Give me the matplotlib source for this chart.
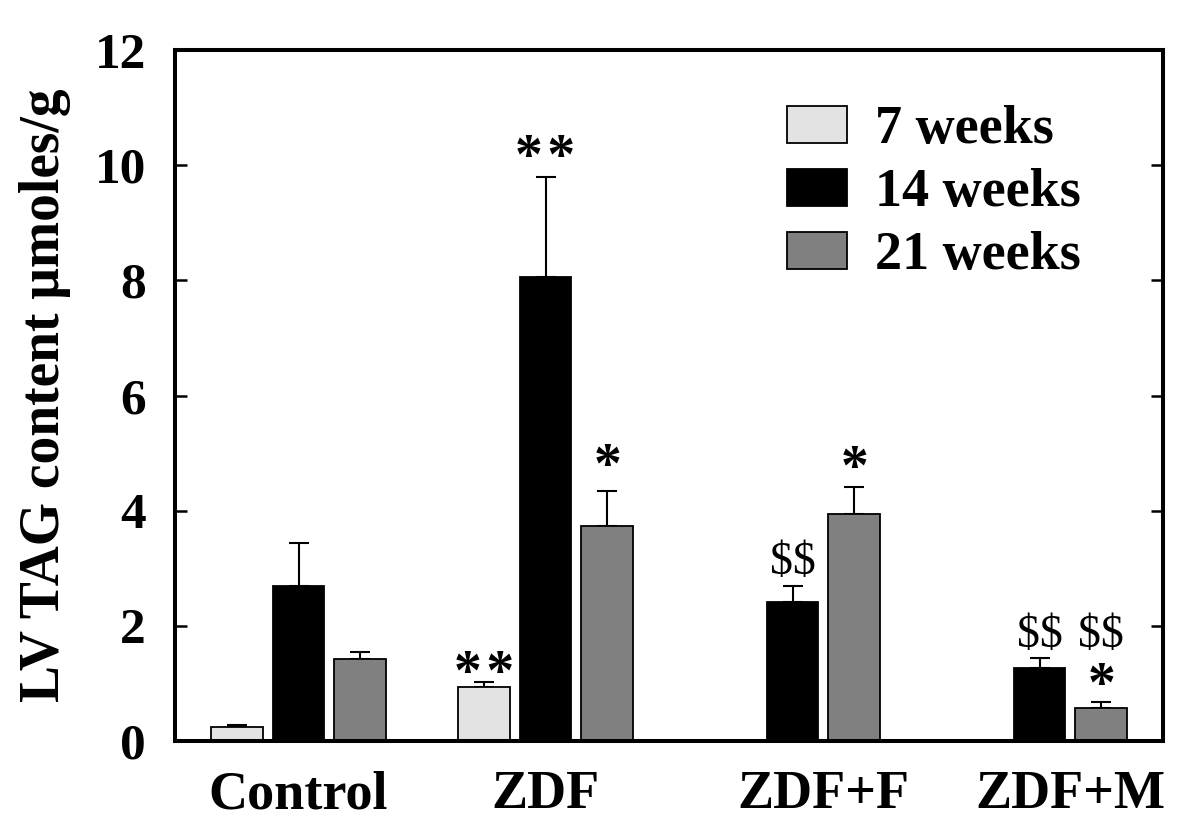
import matplotlib
matplotlib.use("Agg")
import matplotlib.pyplot as plt
import numpy as np

# values (means and upper SEM)
groups = ["Control", "ZDF", "ZDF+F", "ZDF+M"]
series = ["7 weeks", "14 weeks", "21 weeks"]
means_7 = [0.24, 0.94, np.nan, np.nan]
means_14 = [2.70, 8.06, 2.41, 1.26]
means_21 = [1.42, 3.73, 3.94, 0.58]
sem_7 = [0.03, 0.09, np.nan, np.nan]
sem_14 = [0.73, 1.73, 0.29, 0.18]
sem_21 = [0.13, 0.61, 0.47, 0.09]
colors = ["#e3e3e3", "#000000", "#808080"]

# significance marks: (group, series index, text, y of mark)
marks = [
    ("ZDF", 0, "**", 1.41),
    ("ZDF", 1, "**", 10.37),
    ("ZDF", 2, "*", 5.01),
    ("ZDF+F", 1, "$$", 3.15),
    ("ZDF+F", 2, "*", 4.97),
    ("ZDF+M", 1, "$$", 1.88),
    ("ZDF+M", 2, "$$", 1.88),
    ("ZDF+M", 2, "*", 1.21),
]

serif = "Liberation Serif"
fig = plt.figure(figsize=(12, 8.36), dpi=100)
ax = fig.add_axes([175 / 1200, 95 / 836, 988 / 1200, 691 / 836])

means = [means_7, means_14, means_21]
sems = [sem_7, sem_14, sem_21]
group_x = np.arange(len(groups)) * 4.0
width = 0.84

handles = []
present_x = {g: [] for g in groups}
for i, name in enumerate(series):
    m = np.array(means[i])
    e = np.array(sems[i])
    ok = ~np.isnan(m)
    x = group_x[ok] + (i - 1)
    for g, xx in zip(np.array(groups)[ok], x):
        present_x[g].append(xx)
    b = ax.bar(x, m[ok], width, color=colors[i], edgecolor="black", linewidth=1.3,
               label=name, zorder=2)
    ax.errorbar(x, m[ok], yerr=[np.zeros(ok.sum()), e[ok]], fmt="none",
                ecolor="black", elinewidth=1.5, capsize=7.5, capthick=1.5, zorder=1)
    handles.append(b)

for g, i, txt, y in marks:
    xx = group_x[groups.index(g)] + (i - 1)
    if txt.startswith("$"):
        ax.annotate(txt, (xx, y), xytext=(0, -2), textcoords="offset points",
                    ha="center", va="center", fontsize=33, family=serif,
                    parse_math=False)
    else:
        ax.annotate("\u200a".join(txt), (xx, y), xytext=(0, -11),
                    textcoords="offset points", ha="center", va="center",
                    fontsize=40, fontweight="bold", family=[serif, "DejaVu Serif"])

ax.set_xlim(-2, 14)
ax.set_ylim(0, 12)
ax.set_yticks(range(0, 13, 2))
ax.set_xticks([np.mean(present_x[g]) for g in groups])
ax.set_xticklabels(groups, fontsize=39, fontweight="bold", family=serif)
for lab in ax.get_yticklabels():
    lab.set_fontsize(37)
    lab.set_fontweight("bold")
    lab.set_family(serif)
ax.tick_params(axis="x", length=0, pad=21)
ax.tick_params(axis="y", direction="in", length=8.6, width=1.8, pad=21,
               left=True, right=True)
for s in ax.spines.values():
    s.set_linewidth(2.9)

ax.set_ylabel("LV TAG content \u03bcmoles/g", fontsize=40, fontweight="bold",
              family=serif, va="center")
ax.yaxis.set_label_coords(-0.1316, 0.5)

ax.legend(handles=handles, loc="upper left", bbox_to_anchor=(0.619, 0.92),
          frameon=False, borderpad=0, borderaxespad=0, handlelength=1.11,
          handleheight=0.67, handletextpad=0.52, labelspacing=0.24,
          prop={"family": serif, "weight": "bold", "size": 39})

fig.savefig("out.png", dpi=100)
